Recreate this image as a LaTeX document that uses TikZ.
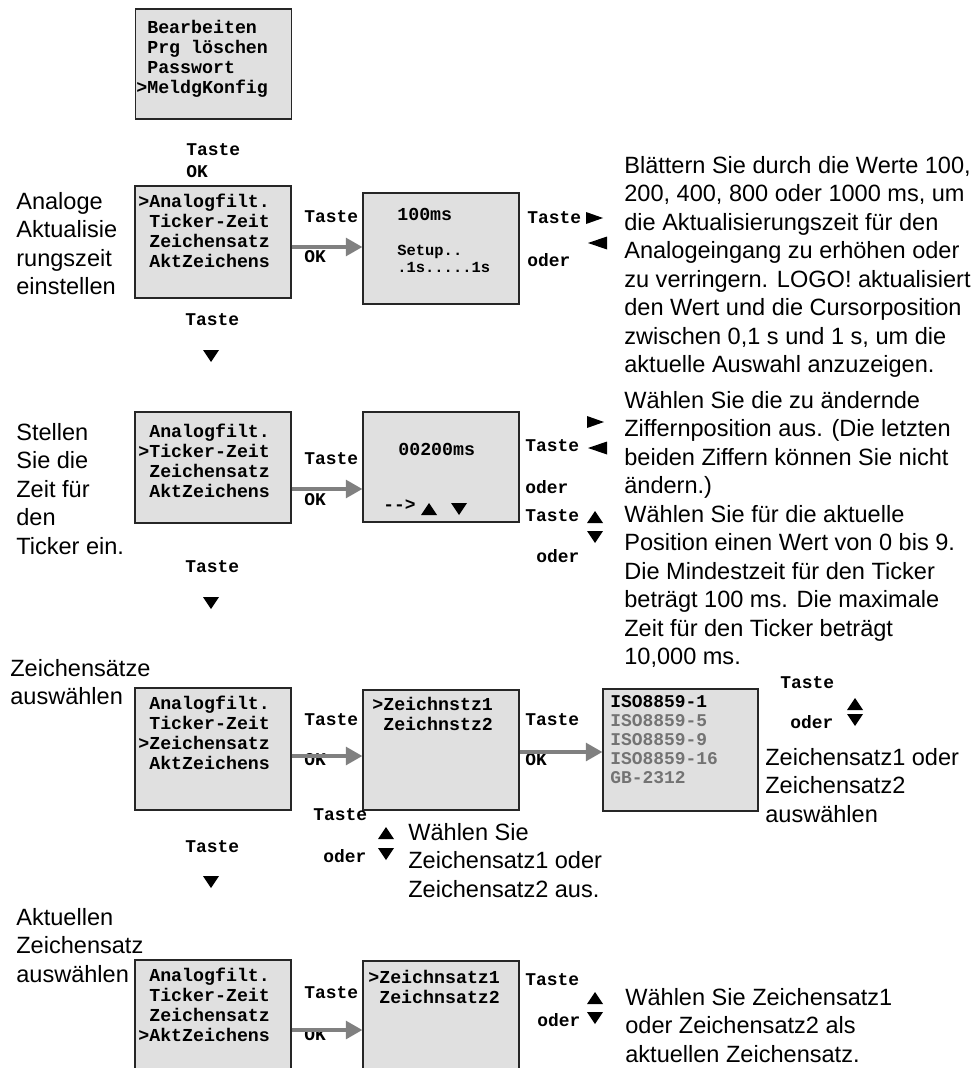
\documentclass[tikz,border=0pt]{standalone}
\usepackage{fontspec}
\setmainfont{Liberation Sans}
\setmonofont{Liberation Mono}
\usetikzlibrary{arrows.meta, positioning}

\newcommand{\lcdsp}{\hphantom{>}}

\begin{document}
\begin{tikzpicture}[x=0.02cm, y=-0.02cm, >=Stealth,
  lcd/.style={draw=black!85, fill=black!12, line width=0.6pt, minimum width=3.12cm, inner sep=0pt},
  lcdtxt/.style={anchor=north west, inner sep=0pt, align=left, font=\ttfamily\bfseries\fontsize{10.4}{11.4}\selectfont},
  lcdsmall/.style={anchor=north west, inner sep=0pt, align=left, font=\ttfamily\bfseries\fontsize{8.8}{9.7}\selectfont},
  key/.style={anchor=west, inner sep=0pt, font=\ttfamily\bfseries\fontsize{10.2}{11}\selectfont},
  desc/.style={anchor=north west, inner sep=0pt, align=left, font=\fontsize{13.4}{16.2}\selectfont},
  flow/.style={draw=black!50, line width=2.8pt, -{Triangle[length=9.5pt,width=10pt]}},
  tridn/.pic={\fill (-8,-6) -- (8,-6) -- (0,6) -- cycle;},
  triup/.pic={\fill (-8,6) -- (8,6) -- (0,-6) -- cycle;},
  trirt/.pic={\fill (-8,-6) -- (-8,6) -- (9,0) -- cycle;},
  trilt/.pic={\fill (9,-6.5) -- (9,6.5) -- (-10,0) -- cycle;}
]
\useasboundingbox (0,0) rectangle (980,1068);
\clip (0,0) rectangle (980,1068);

% Menu boxes (left column)
\node[lcd, minimum height=2.2cm]  (m0) at (213.5,64) {};
\node[lcd, minimum height=2.24cm] (m1) at (213,242) {};
\node[lcd, minimum height=2.22cm] (m2) at (213,467.5) {};
\node[lcd, minimum height=2.44cm] (m3) at (213,749) {};
\node[lcd, minimum height=2.6cm]  (m4) at (213,1025) {};

% Value boxes
\node[lcd, minimum height=2.22cm] (v1) at (441,248.5) {};
\node[lcd, minimum height=2.2cm]  (v2) at (441,467) {};
\node[lcd, minimum height=2.4cm]  (v3) at (441,750) {};
\node[lcd, minimum height=2.6cm]  (v4) at (441,1026) {};
\node[lcd, minimum width=3.1cm, minimum height=2.44cm] (cs) at (680.5,750) {};

% Display texts
\node[lcdtxt] (t0) at (136,20) {\lcdsp Bearbeiten\\\lcdsp Prg löschen\\\lcdsp Passwort\\>MeldgKonfig};
\node[lcdtxt] (t1) at (138,194) {>Analogfilt.\\\lcdsp Ticker-Zeit\\\lcdsp Zeichensatz\\\lcdsp AktZeichens};
\node[lcdtxt] (t2) at (138,424) {\lcdsp Analogfilt.\\>Ticker-Zeit\\\lcdsp Zeichensatz\\\lcdsp AktZeichens};
\node[lcdtxt] (t3) at (138,696) {\lcdsp Analogfilt.\\\lcdsp Ticker-Zeit\\>Zeichensatz\\\lcdsp AktZeichens};
\node[lcdtxt] (t4) at (138,968) {\lcdsp Analogfilt.\\\lcdsp Ticker-Zeit\\\lcdsp Zeichensatz\\>AktZeichens};

\node[key, font=\ttfamily\bfseries\fontsize{10.4}{11.4}\selectfont] (w1) at (397,214) {100ms};
\node[lcdsmall] (w1b) at (397,245) {Setup..\\.1s.....1s};
\node[key, font=\ttfamily\bfseries\fontsize{10.4}{11.4}\selectfont] (w2) at (398,449) {00200ms};
\node[key] (w2b) at (383,505) {-{}-{}>};
\pic at (429,509) {triup};
\pic at (459,509) {tridn};
\node[lcdtxt] (w3) at (372,697) {>Zeichnstz1\\\lcdsp Zeichnstz2};
\node[lcdtxt] (w4) at (368,970) {>Zeichnsatz1\\\lcdsp Zeichnsatz2};
\node[lcdtxt, font=\ttfamily\bfseries\fontsize{10.2}{10.8}\selectfont] (w5) at (610,695)
  {ISO8859-1\\\textcolor{black!55}{ISO8859-5}\\\textcolor{black!55}{ISO8859-9}\\\textcolor{black!55}{ISO8859-16}\\\textcolor{black!55}{GB-2312}};

% Key labels
\node[key] (k0a) at (186,150) {Taste};
\node[key] (k0b) at (186,172) {OK};
\node[key] (k1a) at (304,217) {Taste};
\node[key] (k1b) at (304,257) {OK};
\node[key] (k1c) at (185,320) {Taste};
\node[key] (k1d) at (527,218) {Taste};
\node[key] (k1e) at (527,260) {oder};
\node[key] (k2a) at (304,459) {Taste};
\node[key] (k2b) at (304,500) {OK};
\node[key] (k2c) at (185,567) {Taste};
\node[key] (k2d) at (525,446) {Taste};
\node[key] (k2e) at (525,487) {oder};
\node[key] (k2f) at (525,516) {Taste};
\node[key] (k2g) at (536,556) {oder};
\node[key] (k3a) at (304,720) {Taste};
\node[key] (k3b) at (304,760) {OK};
\node[key] (k3c) at (525,720) {Taste};
\node[key] (k3d) at (525,760) {OK};
\node[key] (k3e) at (185,847) {Taste};
\node[key] (k3f) at (313,815) {Taste};
\node[key] (k3g) at (323,856) {oder};
\node[key] (k3h) at (780,683) {Taste};
\node[key] (k3i) at (790,722) {oder};
\node[key] (k4a) at (304,993) {Taste};
\node[key] (k4b) at (304,1035) {OK};
\node[key] (k4c) at (525,980) {Taste};
\node[key] (k4d) at (537,1020) {oder};

% Key symbols
\pic at (211,356) {tridn};
\pic at (211,603) {tridn};
\pic at (211,882) {tridn};
\pic at (594,218) {trirt};
\pic at (598,243) {trilt};
\pic at (595,422) {trirt};
\pic at (598,448) {trilt};
\pic at (595,517) {triup};
\pic at (595,537) {tridn};
\pic at (386,833) {triup};
\pic at (386,854) {tridn};
\pic at (855,704) {triup};
\pic at (855,720) {tridn};
\pic at (595,998) {triup};
\pic at (595,1018) {tridn};

% OK arrows
\draw[flow] (m1.east |- 0,247) -- (v1.west |- 0,247);
\draw[flow] (m2.east |- 0,489) -- (v2.west |- 0,489);
\draw[flow] (m3.east |- 0,756) -- (v3.west |- 0,756);
\draw[flow] (v3.east |- 0,752) -- (cs.west |- 0,752);
\draw[flow] (m4.east |- 0,1030) -- (v4.west |- 0,1030);

% Step labels
\node[desc] (l1) at (16,192) {Analoge\\Aktualisie\\rungszeit\\einstellen};
\node[desc] (l2) at (16,423) {Stellen\\Sie die\\Zeit für\\den\\Ticker ein.};
\node[desc] (l3) at (10,659) {Zeichensätze\\auswählen};
\node[desc] (l4) at (16,908) {Aktuellen\\Zeichensatz\\auswählen};

% Explanations
\node[desc] (d1) at (624,156) {Blättern Sie durch die Werte 100,\\200, 400, 800 oder 1000 ms, um\\die Aktualisierungszeit für den\\Analogeingang zu erhöhen oder\\zu verringern. LOGO! aktualisiert\\den Wert und die Cursorposition\\zwischen 0,1 s und 1 s, um die\\aktuelle Auswahl anzuzeigen.};
\node[desc] (d2) at (624,391) {Wählen Sie die zu ändernde\\Ziffernposition aus. (Die letzten\\beiden Ziffern können Sie nicht\\ändern.)\\Wählen Sie für die aktuelle\\Position einen Wert von 0 bis 9.\\Die Mindestzeit für den Ticker\\beträgt 100 ms. Die maximale\\Zeit für den Ticker beträgt\\10,000 ms.};
\node[desc] (d3) at (408,823) {Wählen Sie\\Zeichensatz1 oder\\Zeichensatz2 aus.};
\node[desc] (d4) at (765,748) {Zeichensatz1 oder\\Zeichensatz2\\auswählen};
\node[desc] (d5) at (625,988) {Wählen Sie Zeichensatz1\\oder Zeichensatz2 als\\aktuellen Zeichensatz.};

\end{tikzpicture}
\end{document}
